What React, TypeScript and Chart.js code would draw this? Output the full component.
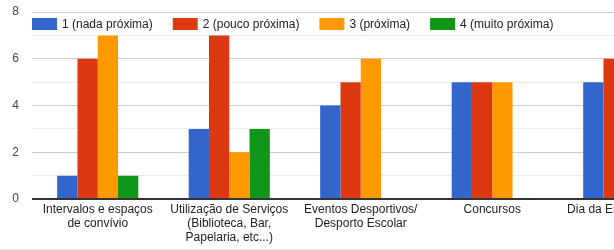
import React, { useEffect, useRef } from "react";
import { Chart, registerables } from "chart.js";

Chart.register(...registerables);

const categories: (string | string[])[] = [
  ["Intervalos e espaços", "de convívio"],
  ["Utilização de Serviços", "(Biblioteca, Bar,", "Papelaria, etc...)"],
  ["Eventos Desportivos/", "Desporto Escolar"],
  "Concursos",
  "Dia da Escola/Festas",
];

const seriesLabels = ["1 (nada próxima)", "2 (pouco próxima)", "3 (próxima)", "4 (muito próxima)"];
const seriesColors = ["#3366cc", "#dc3912", "#ff9900", "#109618"];

const nadaProxima: (number | null)[] = [1, 3, 4, 5, 5];
const poucoProxima: (number | null)[] = [6, 7, 5, 5, 6];
const proxima: (number | null)[] = [7, 2, 6, 5, null];
const muitoProxima: (number | null)[] = [1, 3, 0, 0, null];

const yTicks = [0, 2, 4, 6, 8];

const FONT = "'Liberation Sans', Arial, sans-serif";

const legendPlugin = {
  id: "insideLegend",
  afterDraw(chart: any) {
    const ctx = chart.ctx;
    const area = chart.chartArea;
    ctx.save();
    ctx.font = `12px ${FONT}`;
    ctx.textBaseline = "middle";
    ctx.textAlign = "left";
    let x = area.left;
    const y = 18;
    chart.data.datasets.forEach((ds: any) => {
      ctx.fillStyle = ds.backgroundColor;
      ctx.fillRect(x, y, 25, 12);
      x += 25 + 5;
      ctx.fillStyle = "#222222";
      ctx.fillText(ds.label, x, y + 6.5);
      x += ctx.measureText(ds.label).width + 20;
    });
    ctx.restore();
  },
};

const baselinePlugin = {
  id: "baseline",
  afterDatasetsDraw(chart: any) {
    const ctx = chart.ctx;
    const area = chart.chartArea;
    const y0 = chart.scales.y.getPixelForValue(0);
    ctx.save();
    ctx.strokeStyle = "#333333";
    ctx.lineWidth = 2;
    ctx.beginPath();
    ctx.moveTo(area.left, y0);
    ctx.lineTo(area.right, y0);
    ctx.stroke();
    ctx.strokeStyle = "#e6e6e6";
    ctx.lineWidth = 1;
    ctx.beginPath();
    ctx.moveTo(0, 249.5);
    ctx.lineTo(chart.width, 249.5);
    ctx.stroke();
    ctx.restore();
  },
};

export default function App() {
  const ref = useRef<HTMLCanvasElement | null>(null);
  useEffect(() => {
    document.body.style.margin = "0";
    if (!ref.current) return;
    const seriesData = [nadaProxima, poucoProxima, proxima, muitoProxima];
    const chart = new Chart(ref.current, {
      type: "bar",
      data: {
        labels: categories,
        datasets: seriesData.map((d, i) => ({
          label: seriesLabels[i],
          data: d,
          backgroundColor: seriesColors[i],
          borderWidth: 0,
          barPercentage: 1,
          categoryPercentage: 0.617,
        })),
      },
      options: {
        responsive: false,
        animation: false,
        layout: { padding: { top: 12, right: 10.5, left: 0, bottom: 0 } },
        plugins: { legend: { display: false }, tooltip: { enabled: false } },
        scales: {
          x: {
            grid: { display: false, drawTicks: false },
            border: { display: false },
            ticks: {
              color: "#222222",
              font: { family: FONT, size: 12, lineHeight: 1.2 },
              padding: 3,
              maxRotation: 0,
              autoSkip: false,
            },
            afterFit(scale: any) {
              scale.height = 51;
            },
          },
          y: {
            min: 0,
            max: 8,
            ticks: {
              stepSize: 1,
              color: "#444444",
              font: { family: FONT, size: 12 },
              padding: 0,
              callback: (v: any) => (yTicks.includes(Number(v)) ? String(v) : ""),
            },
            grid: {
              drawTicks: true,
              tickLength: 13,
              tickColor: "rgba(0,0,0,0)",
              color: (c: any) =>
                c.tick.value === 0 ? "rgba(0,0,0,0)" : c.tick.value % 2 === 0 ? "#cccccc" : "#ebebeb",
            },
            border: { display: false },
            afterFit(scale: any) {
              scale.width = 32;
            },
          },
        },
      },
      plugins: [legendPlugin, baselinePlugin],
    });
    return () => chart.destroy();
  }, []);
  return (
    <div style={{ width: 614, height: 250, overflow: "hidden" }}>
      <canvas ref={ref} width={700} height={250} style={{ display: "block" }} />
    </div>
  );
}
